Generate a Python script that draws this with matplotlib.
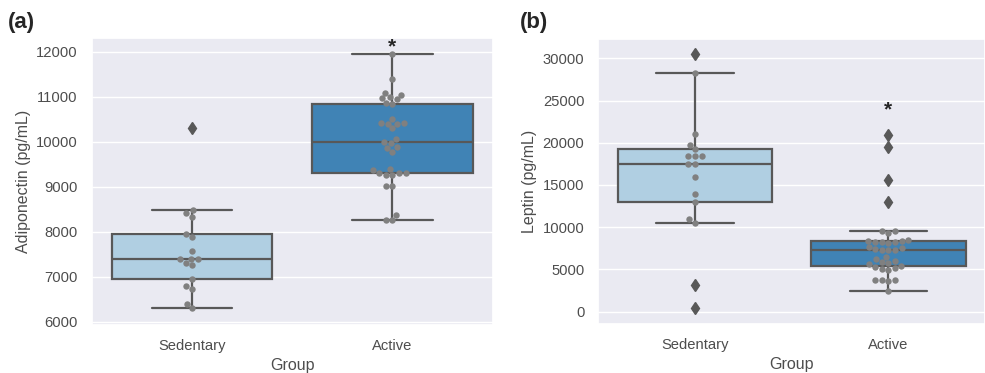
import numpy as np
import pandas as pd
import matplotlib
matplotlib.use("Agg")
import matplotlib.pyplot as plt
import seaborn as sns

groups = ["Sedentary", "Active"]

adipo_sed = [6300, 6390, 6730, 6790, 6940, 7250, 7300, 7390, 7390, 7390,
             7570, 7890, 7940, 8330, 8410, 8470, 10300]
adipo_act = [8260, 8270, 8380, 9010, 9020,
             9260, 9260, 9300, 9300, 9300, 9360, 9390,
             9780, 9850, 9890, 9960, 10000, 10050,
             10300, 10400, 10400, 10410, 10410, 10510,
             10830, 10850, 10940, 10960, 10990, 11040, 11080,
             11400, 11950]

leptin_sed = [390, 3160, 10540, 10940, 13030, 13940, 15990, 17450, 17450,
              18430, 18430, 18430, 19300, 19740, 21000, 28220, 30510]
leptin_act = [2490, 3650, 3700, 3750, 3800,
              4950, 5050, 5150, 5250, 5400,
              5600, 5800, 5900, 6000, 6200, 6500,
              7250, 7300, 7350, 7400, 7500, 7600,
              8150, 8200, 8250, 8300, 8350, 8400, 8450,
              9280, 9500, 9550,
              13030, 15590, 19460, 20920]

box_colors = ["#b0cfe2", "#4083b5"]
edge = "#585858"

sns.set_theme(style="darkgrid")
plt.rcParams["font.family"] = ["Liberation Sans", "DejaVu Sans"]


def inliers(vals):
    v = np.array(vals, dtype=float)
    q1, q3 = np.percentile(v, [25, 75])
    iqr = q3 - q1
    return v[(v >= q1 - 1.5 * iqr) & (v <= q3 + 1.5 * iqr)]


def panel(ax, sed, act, ylabel):
    df = pd.DataFrame({"Group": ["Sedentary"] * len(sed) + ["Active"] * len(act),
                       "value": sed + act})
    sns.boxplot(data=df, x="Group", y="value", hue="Group", order=groups,
                hue_order=groups, palette=box_colors, saturation=1,
                legend=False, linewidth=1.6, linecolor=edge, width=0.8,
                flierprops=dict(marker="d", markersize=6,
                                markerfacecolor=edge, markeredgecolor=edge),
                ax=ax)
    sw = pd.DataFrame({"Group": ["Sedentary"] * len(inliers(sed)) + ["Active"] * len(inliers(act)),
                       "value": np.concatenate([inliers(sed), inliers(act)])})
    sns.swarmplot(data=sw, x="Group", y="value", order=groups, color="gray",
                  size=4.6, ax=ax)
    ax.set_xlabel("Group", fontsize=11.5, color="0.3")
    ax.set_ylabel(ylabel, fontsize=11.5, color="0.3")
    ax.tick_params(axis="both", labelsize=10.6, labelcolor="0.3", pad=4)
    ax.xaxis.grid(False)


fig = plt.figure(figsize=(9.85, 3.73), dpi=100)
ax1 = fig.add_axes([0.0931, 0.1287, 0.4071, 0.7686])
ax2 = fig.add_axes([0.6074, 0.1314, 0.3926, 0.7633])

panel(ax1, adipo_sed, adipo_act, "Adiponectin (pg/mL)")
ax1.set_ylim(5926, 12296)
ax1.set_yticks(range(6000, 12001, 1000))
ax1.text(1, 11900, "*", ha="center", va="bottom", fontsize=15, fontweight="bold")

panel(ax2, leptin_sed, leptin_act, "Leptin (pg/mL)")
ax2.set_ylim(-1460, 32250)
ax2.set_yticks(range(0, 30001, 5000))
ax2.text(1, 22800, "*", ha="center", va="bottom", fontsize=15, fontweight="bold")

fig.text(0.008, 0.94, "(a)", fontsize=16, fontweight="bold", va="center")
fig.text(0.528, 0.94, "(b)", fontsize=16, fontweight="bold", va="center")

fig.savefig("out.png", dpi=100)
